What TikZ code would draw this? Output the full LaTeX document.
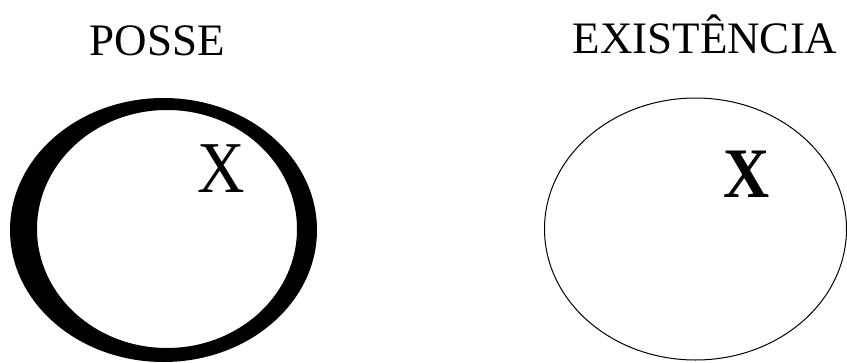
\documentclass[tikz,border=0pt]{standalone}
\usepackage{fontspec}
\setmainfont{Liberation Serif}
\usetikzlibrary{shapes.geometric,positioning}
\definecolor{inkBlack}{RGB}{0,0,0}
\tikzset{
  titlelabel/.style={inner sep=0pt, anchor=base, font=\fontsize{45}{45}\selectfont, text=inkBlack},
  elemlabel/.style={inner sep=0pt, anchor=base, font=\fontsize{73}{73}\selectfont, text=inkBlack},
  thinRing/.style={draw=inkBlack, line width=1pt}
}
\begin{document}
\begin{tikzpicture}[x=1pt, y=-1pt]
        \useasboundingbox (0,0) rectangle (847,362);
        % thick ring (posse)
        \fill[inkBlack, even odd rule] (163.5,230) ellipse [x radius=153.5, y radius=132]
                                       (167,229) ellipse [x radius=130, y radius=119];
        % thin ring (existencia)
        \draw[thinRing] (695.5,229) ellipse [x radius=151, y radius=131];
        \node[titlelabel] (posse) at (157.5,55) {POSSE};
        \node[titlelabel] (exist) at (705,53) {EXIST\^ENCIA};
        \node[elemlabel] (xposse) at (221.5,192) {\scalebox{0.9}[1]{X}};
        \node[elemlabel, font=\fontsize{71}{71}\selectfont\bfseries] (xexist) at (746.5,197) {\scalebox{0.9}[1]{X}};
      \end{tikzpicture}
\end{document}
